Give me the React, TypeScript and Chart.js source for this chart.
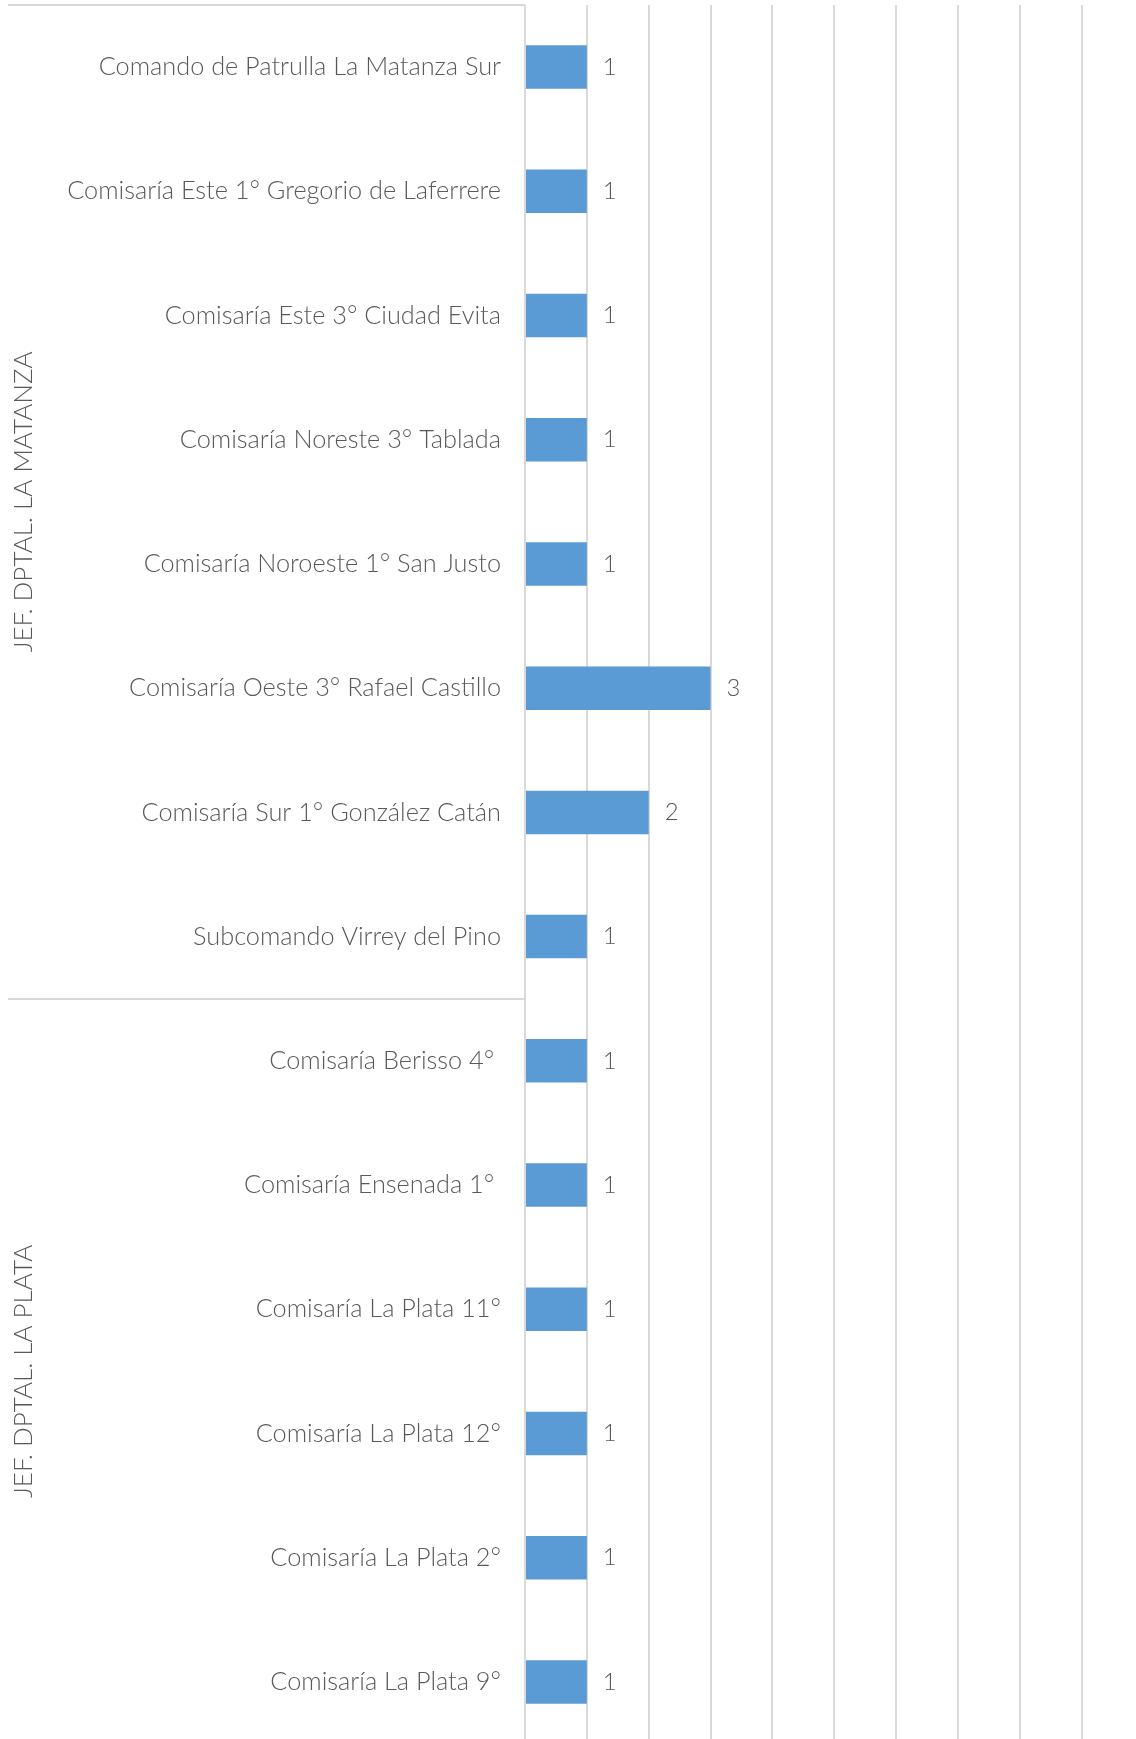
import React, { useEffect, useRef } from "react";
import { Chart, registerables } from "chart.js";
Chart.register(...registerables);

const categories: string[] = [
  "Comando de Patrulla La Matanza Sur",
  "Comisaría Este 1° Gregorio de Laferrere",
  "Comisaría Este 3° Ciudad Evita",
  "Comisaría Noreste 3° Tablada",
  "Comisaría Noroeste 1° San Justo",
  "Comisaría Oeste 3° Rafael Castillo",
  "Comisaría Sur 1° González Catán",
  "Subcomando Virrey del Pino",
  "Comisaría Berisso 4° ",
  "Comisaría Ensenada 1° ",
  "Comisaría La Plata 11°",
  "Comisaría La Plata 12°",
  "Comisaría La Plata 2°",
  "Comisaría La Plata 9°",
];
const values: number[] = [1, 1, 1, 1, 1, 3, 2, 1, 1, 1, 1, 1, 1, 1];
const groups: string[] = ["JEF. DPTAL. LA MATANZA", "JEF. DPTAL. LA PLATA"];
const groupSizes: number[] = [8, 6];
const xMin = 0;
const xMax = 10;

const FONT = "Lato, 'Open Sans', sans-serif";
const TEXT = "#595959";
const GRID = "#d9d9d9";
const BAR = "#5b9bd5";
const W = 1150;
const H = 1746;
const AXIS_X = 525;

const groupAxisPlugin = {
  id: "groupAxis",
  afterDraw(chart: any) {
    const ctx = chart.ctx;
    const y = chart.scales.y;
    const area = chart.chartArea;
    ctx.save();
    ctx.strokeStyle = GRID;
    ctx.lineWidth = 2;
    let start = 0;
    let top = area.top;
    groupSizes.forEach((size, gi) => {
      const end = start + size;
      const bottom =
        end < categories.length
          ? (y.getPixelForValue(end - 1) + y.getPixelForValue(end)) / 2
          : area.bottom;
      ctx.beginPath();
      ctx.moveTo(8, Math.round(top));
      ctx.lineTo(area.left, Math.round(top));
      ctx.stroke();
      ctx.save();
      ctx.fillStyle = TEXT;
      ctx.font = `300 26px ${FONT}`;
      ctx.textAlign = "center";
      ctx.textBaseline = "middle";
      ctx.translate(24, (top + bottom) / 2);
      ctx.rotate(-Math.PI / 2);
      ctx.fillText(groups[gi], 0, 0);
      ctx.restore();
      start = end;
      top = bottom;
    });
    ctx.restore();
  },
  afterDatasetsDraw(chart: any) {
    const ctx = chart.ctx;
    const meta = chart.getDatasetMeta(0);
    ctx.save();
    ctx.fillStyle = TEXT;
    ctx.font = `300 24px ${FONT}`;
    ctx.textAlign = "left";
    ctx.textBaseline = "middle";
    meta.data.forEach((bar: any, i: number) => {
      ctx.fillText(String(values[i]), bar.x + 16, bar.y);
    });
    ctx.restore();
  },
};

export default function App() {
  const ref = useRef<HTMLCanvasElement | null>(null);
  useEffect(() => {
    if (!ref.current) return;
    const chart = new Chart(ref.current, {
      type: "bar",
      data: {
        labels: categories,
        datasets: [
          {
            data: values,
            backgroundColor: BAR,
            borderWidth: 0,
            categoryPercentage: 1,
            barPercentage: 0.35,
          },
        ],
      },
      options: {
        indexAxis: "y",
        animation: false,
        responsive: false,
        maintainAspectRatio: false,
        layout: { padding: { top: 5, right: W - (AXIS_X + 10 * 61.85), bottom: 2, left: 0 } },
        plugins: { legend: { display: false }, tooltip: { enabled: false } },
        scales: {
          x: {
            type: "linear",
            min: xMin,
            max: xMax,
            ticks: { display: false, stepSize: 1 },
            grid: { color: GRID, lineWidth: 2, drawTicks: false },
            border: { display: false },
            afterFit: (s: any) => {
              s.height = 0;
              s.paddingLeft = 0;
              s.paddingRight = 0;
            },
          },
          y: {
            type: "category",
            ticks: {
              color: TEXT,
              font: { family: FONT, size: 25.3, weight: "300" },
              padding: 24,
              autoSkip: false,
            },
            grid: { display: false, drawTicks: false },
            border: { display: false },
            afterFit: (s: any) => {
              s.width = AXIS_X;
              s.paddingTop = 0;
              s.paddingBottom = 0;
            },
          },
        },
      },
      plugins: [groupAxisPlugin],
    } as any);
    return () => chart.destroy();
  }, []);
  return (
    <div
      style={{
        position: "absolute",
        left: 0,
        top: 0,
        width: 1136,
        height: 1739,
        overflow: "hidden",
        background: "#fff",
      }}
    >
      <canvas ref={ref} width={W} height={H} style={{ display: "block" }} />
    </div>
  );
}
